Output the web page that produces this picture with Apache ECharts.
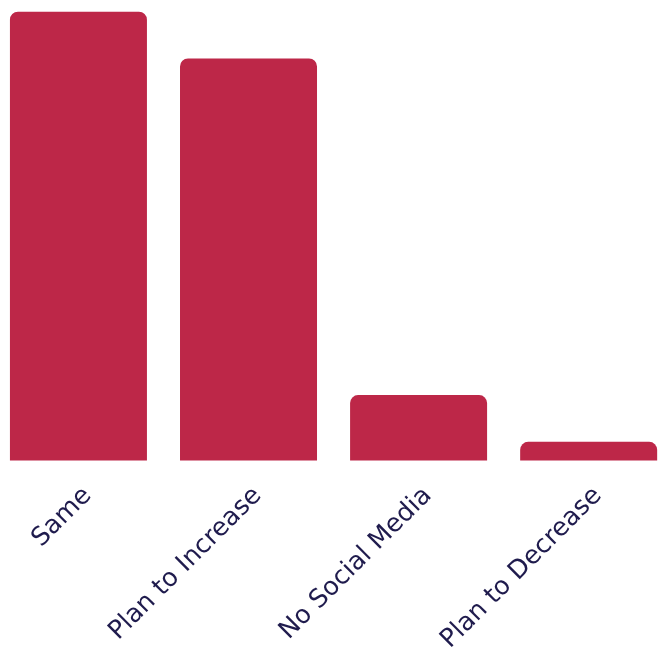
<!DOCTYPE html>
<html>
<head>
<meta charset="utf-8">
<script src="https://cdn.jsdelivr.net/npm/echarts@6/dist/echarts.min.js"></script>
<style>
html,body{margin:0;padding:0;background:#fff;}
#chart{width:666px;height:653px;}
</style>
</head>
<body>
<div id="chart"></div>
<script>
const categories = ["Same", "Plan to Increase", "No Social Media", "Plan to Decrease"];
const values = [48, 43, 7, 2];

const chart = echarts.init(document.getElementById('chart'), null, {renderer: 'canvas'});
chart.setOption({
  animation: false,
  backgroundColor: '#ffffff',
  grid: {left: -6.6, width: 680.3, top: 11.7, height: 448.8, containLabel: false, outerBoundsMode: 'none'},
  xAxis: {
    type: 'category',
    data: categories,
    axisLine: {show: false},
    axisTick: {show: false},
    splitLine: {show: false},
    axisLabel: {
      interval: 0,
      rotate: 45,
      margin: 22,
      color: '#1f1b4d',
      fontFamily: 'DejaVu Sans',
      fontSize: 25.5,
      verticalAlign: 'top'
    }
  },
  yAxis: {
    type: 'value',
    min: 0,
    max: 48,
    show: false
  },
  series: [{
    type: 'bar',
    data: values,
    barWidth: 137,
    itemStyle: {color: '#bd2748', borderRadius: [8, 8, 0, 0]}
  }]
});
</script>
</body>
</html>
